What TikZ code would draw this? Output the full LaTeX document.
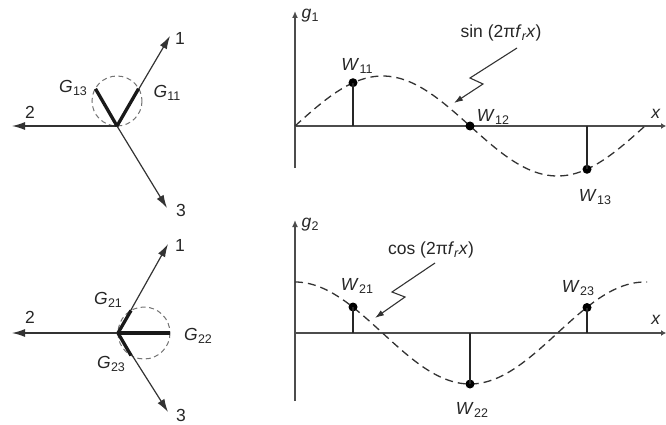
\documentclass[tikz,border=0pt]{standalone}
\usepackage{fontspec}
\setmainfont{Liberation Sans}
\usetikzlibrary{arrows.meta}
\newcommand\lbl[2]{\textit{#1}\kern0.3pt\raisebox{-0.32ex}{\fontsize{12.5}{13}\selectfont #2}}
\begin{document}
\begin{tikzpicture}[x=1pt,y=-1pt,
  txt/.style={font=\fontsize{17.5}{19}\selectfont, inner sep=0pt, text=black!85},
  vaxis/.style={draw=black!80, line width=1.2pt, -{Latex[length=13pt,width=8pt]}},
  thickseg/.style={black!90, line width=3.3pt, line cap=butt},
  dcircle/.style={draw=black!55, line width=1pt, dash pattern=on 5pt off 3.5pt},
  paxis/.style={draw=black!70, line width=1.4pt},
  curve/.style={black!80, line width=1.3pt, dash pattern=on 8pt off 5pt},
  stem/.style={black!85, line width=1.1pt},
  wdot/.style={circle, fill=black, inner sep=0pt, minimum size=9pt},
  bolt/.style={black!80, line width=1.1pt, -{Latex[length=9pt,width=6pt]}}
]
\useasboundingbox (0,0) rectangle (666,425);
% ---------- top-left phasor diagram ----------
\coordinate (O1) at (117,126);
\coordinate (T11) at (170,36);
\coordinate (T12) at (12,126);
\coordinate (T13) at (167,208);
\draw[dcircle] (117,101) circle (25);
\draw[vaxis] (O1) -- (T11);
\draw[vaxis] (O1) -- (T12);
\draw[vaxis] (O1) -- (T13);
\coordinate (G11e) at (138.5,88.8);
\coordinate (G13e) at (95.5,88.8);
\draw[thickseg] (O1) -- (G11e);
\draw[thickseg] (O1) -- (G13e);
\node[txt] (n11) at (180,38) {1};
\node[txt] (n12) at (30,112) {2};
\node[txt] (n13) at (181,210) {3};
\node[txt] (lG13) at (73,88) {\lbl{G}{13}};
\node[txt] (lG11) at (167,93) {\lbl{G}{11}};
% ---------- bottom-left phasor diagram ----------
\coordinate (O2) at (118,333);
\coordinate (T21) at (168,244);
\coordinate (T22) at (12,333);
\coordinate (T23) at (168,412);
\draw[dcircle] (144,333) circle (26);
\draw[vaxis] (O2) -- (T21);
\draw[vaxis] (O2) -- (T22);
\draw[vaxis] (O2) -- (T23);
\coordinate (G21e) at (131,310.5);
\coordinate (G22e) at (170,333);
\coordinate (G23e) at (131,355.5);
\draw[thickseg] (O2) -- (G21e);
\draw[thickseg] (O2) -- (G22e);
\draw[thickseg] (O2) -- (G23e);
\node[txt] (n21) at (180,245) {1};
\node[txt] (n22) at (30,317) {2};
\node[txt] (n23) at (181,415) {3};
\node[txt] (lG21) at (108,300) {\lbl{G}{21}};
\node[txt] (lG22) at (198,336) {\lbl{G}{22}};
\node[txt] (lG23) at (111,364) {\lbl{G}{23}};
% ---------- top-right plot ----------
\coordinate (P1) at (295,126);
\coordinate (Y1b) at (295,168);
\coordinate (Y1t) at (295,11);
\coordinate (X1e) at (666,126);
\draw[paxis, -{Latex[length=7pt,width=6pt]}] (Y1b) -- (Y1t);
\draw[paxis, -{Latex[length=5pt,width=6pt]}] (P1) -- (X1e);
\draw[curve] plot[domain=295:645, samples=120, smooth] (\x, {126-50*sin(1.028571*(\x-295))});
\coordinate (S11) at (353,126);
\coordinate (S13) at (587,126);
\node[wdot] (W11) at (353,82.7) {};
\node[wdot] (W12) at (470,126) {};
\node[wdot] (W13) at (587,169.3) {};
\draw[stem] (S11) -- (W11.center);
\draw[stem] (S13) -- (W13.center);
\node[txt] (lg1) at (310,16) {\lbl{g}{1}};
\node[txt] (lx1) at (656,114) {\textit{x}};
\node[txt] (lW11) at (357,66) {\lbl{W}{11}};
\node[txt] (lW12) at (493,117) {\lbl{W}{12}};
\node[txt] (lW13) at (595,197) {\lbl{W}{13}};
\node[txt] (lsin) at (501,33) {sin (2π\textit{f}\raisebox{-0.32ex}{\fontsize{12.5}{13}\selectfont\textit{r}}\textit{x})};
\coordinate (b1a) at (517,48);
\coordinate (b1b) at (470,78);
\coordinate (b1c) at (483,84);
\coordinate (b1d) at (454,103);
\draw[bolt] (b1a) -- (b1b) -- (b1c) -- (b1d);
% ---------- bottom-right plot ----------
\coordinate (P2) at (295,333);
\coordinate (Y2b) at (295,401);
\coordinate (Y2t) at (295,220);
\coordinate (X2e) at (666,333);
\draw[paxis, -{Latex[length=7pt,width=6pt]}] (Y2b) -- (Y2t);
\draw[paxis, -{Latex[length=5pt,width=6pt]}] (P2) -- (X2e);
\draw[curve] plot[domain=295:647, samples=120, smooth] (\x, {333-51*cos(1.028571*(\x-295))});
\coordinate (S21) at (353,333);
\coordinate (S22) at (470,333);
\coordinate (S23) at (587,333);
\node[wdot] (W21) at (353,307) {};
\node[wdot] (W22) at (470,384) {};
\node[wdot] (W23) at (587,307.5) {};
\draw[stem] (S21) -- (W21.center);
\draw[stem] (S22) -- (W22.center);
\draw[stem] (S23) -- (W23.center);
\node[txt] (lg2) at (310,225) {\lbl{g}{2}};
\node[txt] (lx2) at (656,320) {\textit{x}};
\node[txt] (lW21) at (357,286) {\lbl{W}{21}};
\node[txt] (lW23) at (578,288) {\lbl{W}{23}};
\node[txt] (lW22) at (472,410) {\lbl{W}{22}};
\node[txt] (lcos) at (431,250) {cos (2π\textit{f}\raisebox{-0.32ex}{\fontsize{12.5}{13}\selectfont\textit{r}}\textit{x})};
\coordinate (b2a) at (435,263);
\coordinate (b2b) at (392,292);
\coordinate (b2c) at (405,297);
\coordinate (b2d) at (375,318);
\draw[bolt] (b2a) -- (b2b) -- (b2c) -- (b2d);
\end{tikzpicture}
\end{document}
